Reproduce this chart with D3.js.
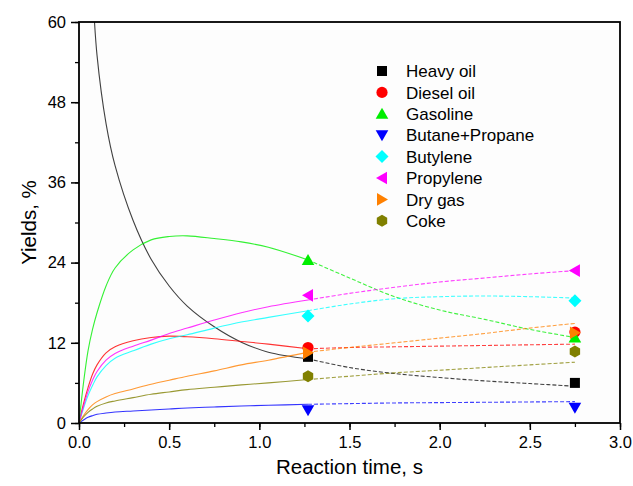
<!DOCTYPE html>
<html>
<head>
<meta charset="utf-8">
<script src="https://cdn.jsdelivr.net/npm/d3@7"></script>
<style>
  body { margin: 0; background: #fff; }
  text { font-family: "Liberation Sans", Arial, sans-serif; fill: #000; }
</style>
</head>
<body>
<script>
// model curve, solid part (0 .. 1.27 s)
var tFit = [0, 0.025, 0.05, 0.075, 0.1, 0.15, 0.2, 0.3, 0.4, 0.5, 0.6, 0.75, 0.9, 1.05, 1.27];
// model curve, dashed extrapolation (1.27 .. 2.75 s)
var tExt = [1.27, 1.5, 1.75, 2.0, 2.25, 2.5, 2.75];
// measured points
var tExp = [1.27, 2.75];

var names = ["Heavy oil", "Diesel oil", "Gasoline", "Butane+Propane", "Butylene", "Propylene", "Dry gas", "Coke"];
var colors = ["#000000", "#ff0000", "#00ee00", "#0000ff", "#00ffff", "#ff00ff", "#ff8000", "#808000"];
var shapes = ["square", "circle", "up", "down", "diamond", "left", "right", "hexagon"];

var heavyFit = [100, 88, 76, 65, 55, 44.8, 38.5, 30.3, 24.5, 20.5, 17.5, 14.4, 12.1, 10.6, 9.6];
var dieselFit = [0, 2.9, 5.3, 7.3, 8.7, 10.5, 11.4, 12.3, 12.8, 13.0, 12.9, 12.6, 12.2, 11.8, 11.1];
var gasolineFit = [0, 6.0, 10.8, 14.0, 16.5, 20.5, 23.2, 25.9, 27.4, 27.9, 28.0, 27.6, 27.1, 26.3, 24.4];
var butaneFit = [0, 0.45, 0.85, 1.1, 1.3, 1.5, 1.65, 1.8, 1.95, 2.1, 2.25, 2.4, 2.55, 2.65, 2.8];
var butyleneFit = [0, 2.2, 4.1, 5.6, 6.9, 8.6, 9.7, 10.8, 11.8, 12.6, 13.2, 14.2, 15.1, 15.8, 16.8];
var propyleneFit = [0, 2.5, 4.7, 6.4, 7.7, 9.4, 10.4, 11.5, 12.4, 13.4, 14.2, 15.4, 16.5, 17.4, 18.4];
var drygasFit = [0, 1.1, 2.0, 2.7, 3.2, 3.9, 4.4, 5.1, 5.8, 6.4, 7.0, 7.8, 8.7, 9.4, 10.6];
var cokeFit = [0, 0.9, 1.6, 2.1, 2.5, 3.0, 3.3, 3.8, 4.3, 4.65, 5.0, 5.35, 5.7, 6.0, 6.5];

var heavyExt = [9.6, 8.3, 7.4, 6.8, 6.3, 5.9, 5.5];
var dieselExt = [11.1, 11.3, 11.4, 11.5, 11.6, 11.7, 11.8];
var gasolineExt = [24.4, 21.7, 18.9, 16.9, 15.5, 14.0, 12.8];
var butaneExt = [2.8, 2.9, 3.0, 3.05, 3.1, 3.15, 3.2];
var butyleneExt = [16.8, 17.8, 18.6, 18.9, 19.0, 18.9, 18.7];
var propyleneExt = [18.4, 19.4, 20.3, 21.1, 21.7, 22.3, 22.8];
var drygasExt = [10.6, 11.3, 12.0, 12.7, 13.4, 14.2, 14.9];
var cokeExt = [6.5, 7.0, 7.5, 7.9, 8.3, 8.7, 9.1];

var heavyExp = [9.9, 6.0];
var dieselExp = [11.3, 13.6];
var gasolineExp = [24.4, 12.8];
var butaneExp = [1.9, 2.3];
var butyleneExp = [16.0, 18.3];
var propyleneExp = [19.1, 22.8];
var drygasExp = [10.5, 13.5];
var cokeExp = [7.0, 10.7];

var fits = [heavyFit, dieselFit, gasolineFit, butaneFit, butyleneFit, propyleneFit, drygasFit, cokeFit];
var exts = [heavyExt, dieselExt, gasolineExt, butaneExt, butyleneExt, propyleneExt, drygasExt, cokeExt];
var exps = [heavyExp, dieselExp, gasolineExp, butaneExp, butyleneExp, propyleneExp, drygasExp, cokeExp];

var xTicks = [0, 0.5, 1.0, 1.5, 2.0, 2.5, 3.0];
var yTicks = [0, 12, 24, 36, 48, 60];

var width = 633, height = 486;
var margin = { left: 79, right: 13, top: 22, bottom: 63 };

var svg = d3.select("body").append("svg")
  .attr("width", width)
  .attr("height", height);

var x = d3.scaleLinear().domain([0, 3]).range([margin.left, width - margin.right]);
var y = d3.scaleLinear().domain([0, 60]).range([height - margin.bottom, margin.top]);

svg.append("rect")
  .attr("x", x(0)).attr("y", y(60))
  .attr("width", x(3) - x(0)).attr("height", y(0) - y(60))
  .attr("fill", "#fdfdfd");

svg.append("clipPath").attr("id", "clip")
  .append("rect")
  .attr("x", x(0)).attr("y", y(60))
  .attr("width", x(3) - x(0)).attr("height", y(0) - y(60));

// axes
var xMinor = d3.range(0, 3.01, 0.25);
var yMinor = d3.range(0, 60.1, 6);

svg.append("g")
  .attr("transform", "translate(0," + y(0) + ")")
  .call(d3.axisBottom(x).tickValues(xMinor).tickSize(4).tickFormat(""))
  .call(g => g.select(".domain").remove())
  .selectAll("line").attr("stroke-width", 1.3);

svg.append("g")
  .attr("transform", "translate(0," + y(0) + ")")
  .call(d3.axisBottom(x).tickValues(xTicks).tickSize(7).tickPadding(6).tickFormat(d3.format(".1f")))
  .call(g => g.select(".domain").remove())
  .call(g => g.selectAll("line").attr("stroke-width", 1.5))
  .selectAll("text").attr("font-size", 16.5).attr("font-family", "Liberation Sans, Arial, sans-serif");

svg.append("g")
  .attr("transform", "translate(" + x(0) + ",0)")
  .call(d3.axisLeft(y).tickValues(yMinor).tickSize(4).tickFormat(""))
  .call(g => g.select(".domain").remove())
  .selectAll("line").attr("stroke-width", 1.3);

svg.append("g")
  .attr("transform", "translate(" + x(0) + ",0)")
  .call(d3.axisLeft(y).tickValues(yTicks).tickSize(8).tickPadding(5))
  .call(g => g.select(".domain").remove())
  .call(g => g.selectAll("line").attr("stroke-width", 1.5))
  .selectAll("text").attr("font-size", 16.5).attr("font-family", "Liberation Sans, Arial, sans-serif");

// curves
var plot = svg.append("g").attr("clip-path", "url(#clip)");

var line = d3.line()
  .x(d => x(d[0]))
  .y(d => y(d[1]))
  .curve(d3.curveCatmullRom.alpha(0.5));

fits.forEach(function (vals, i) {
  plot.append("path")
    .datum(tFit.map((t, j) => [t, vals[j]]))
    .attr("d", line)
    .attr("fill", "none")
    .attr("stroke", colors[i])
    .attr("stroke-width", 1.1)
    .attr("opacity", i == 0 ? 0.75 : 0.8);
});

exts.forEach(function (vals, i) {
  plot.append("path")
    .datum(tExt.map((t, j) => [t, vals[j]]))
    .attr("d", line)
    .attr("fill", "none")
    .attr("stroke", colors[i])
    .attr("stroke-width", 1.1)
    .attr("stroke-dasharray", "4,2")
    .attr("opacity", 0.75);
});

// marker shapes
function markerPath(shape) {
  var p = d3.path();
  if (shape == "square") {
    p.rect(-5, -5, 10, 10);
  } else if (shape == "circle") {
    p.arc(0, 0, 5.6, 0, 2 * Math.PI);
  } else if (shape == "up") {
    p.moveTo(0, -6); p.lineTo(6.3, 5); p.lineTo(-6.3, 5); p.closePath();
  } else if (shape == "down") {
    p.moveTo(0, 6); p.lineTo(6.3, -5); p.lineTo(-6.3, -5); p.closePath();
  } else if (shape == "left") {
    p.moveTo(-6, 0); p.lineTo(5, -6.3); p.lineTo(5, 6.3); p.closePath();
  } else if (shape == "right") {
    p.moveTo(6, 0); p.lineTo(-5, -6.3); p.lineTo(-5, 6.3); p.closePath();
  } else if (shape == "diamond") {
    p.moveTo(0, -6.5); p.lineTo(6.5, 0); p.lineTo(0, 6.5); p.lineTo(-6.5, 0); p.closePath();
  } else if (shape == "hexagon") {
    for (var k = 0; k < 6; k++) {
      var a = Math.PI / 6 + k * Math.PI / 3;
      var px = 6 * Math.cos(a), py = 6 * Math.sin(a);
      if (k == 0) p.moveTo(px, py); else p.lineTo(px, py);
    }
    p.closePath();
  }
  return p.toString();
}

exps.forEach(function (vals, i) {
  svg.append("g").selectAll("path")
    .data(tExp.map((t, j) => [t, vals[j]]))
    .enter()
    .append("path")
    .attr("transform", d => "translate(" + x(d[0]) + "," + y(d[1]) + ")")
    .attr("d", markerPath(shapes[i]))
    .attr("fill", colors[i]);
});

// frame
svg.append("rect")
  .attr("x", x(0)).attr("y", y(60))
  .attr("width", x(3) - x(0)).attr("height", y(0) - y(60))
  .attr("fill", "none")
  .attr("stroke", "#000")
  .attr("stroke-width", 1.8);

// legend
var legX = 382, legY = 71, legDy = 21.4;
var legend = svg.append("g");
names.forEach(function (name, i) {
  legend.append("path")
    .attr("transform", "translate(" + legX + "," + (legY + i * legDy) + ")")
    .attr("d", markerPath(shapes[i]))
    .attr("fill", colors[i]);
  legend.append("text")
    .attr("x", legX + 24)
    .attr("y", legY + i * legDy)
    .attr("dy", "0.36em")
    .attr("font-size", 17)
    .text(name);
});

// axis titles
svg.append("text")
  .attr("x", (x(0) + x(3)) / 2)
  .attr("y", 474)
  .attr("text-anchor", "middle")
  .attr("font-size", 20.5)
  .text("Reaction time, s");

svg.append("text")
  .attr("transform", "translate(36," + ((y(0) + y(60)) / 2) + ") rotate(-90)")
  .attr("text-anchor", "middle")
  .attr("font-size", 20.5)
  .text("Yields, %");
</script>
</body>
</html>
